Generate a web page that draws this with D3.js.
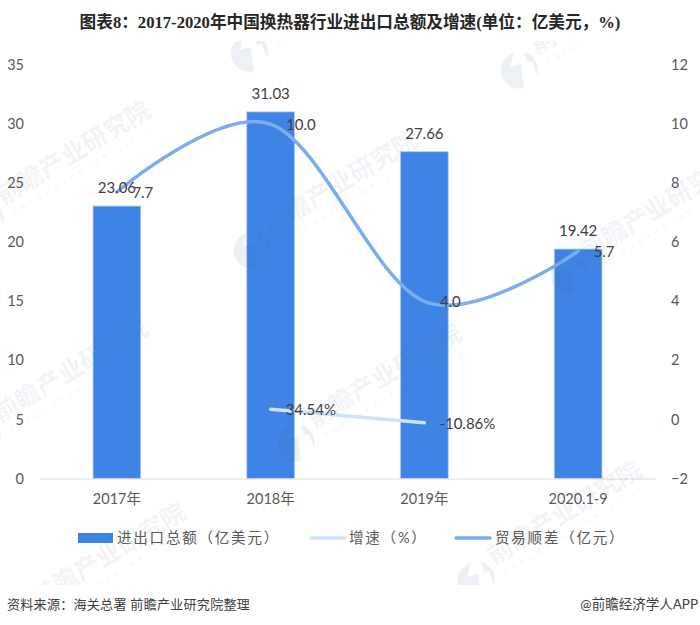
<!DOCTYPE html>
<html>
<head>
<meta charset="utf-8">
<script src="https://cdn.jsdelivr.net/npm/d3@7/dist/d3.min.js"></script>
<style>
    html, body { margin: 0; padding: 0; background: #fff; }
    svg { display: block; }
    text { font-family: Lato, "Noto Sans CJK SC", sans-serif; }
</style>
</head>
<body>
<svg id="chart" width="700" height="625"></svg>
<script>
const categories = ['2017年', '2018年', '2019年', '2020.1-9'];
const totals = [23.06, 31.03, 27.66, 19.42];
const tradeSurplus = [7.7, 10.0, 4.0, 5.7];
const growthCategories = ['2018年', '2019年'];
const growthRates = [34.54, -10.86];
const leftTicks = [0, 5, 10, 15, 20, 25, 30, 35];
const rightTicks = [-2, 0, 2, 4, 6, 8, 10, 12];
const legendLabels = ['进出口总额（亿美元）', '增速（%）', '贸易顺差（亿元）'];

const barColor = '#3f84e4';
const growthColor = '#cfe2fb';
const surplusColor = '#7aaeef';
const textColor = '#595959';
const labelColor = '#404040';

const svg = d3.select('#chart');
const plot = { left: 40, right: 655, top: 65, bottom: 478.5 };

const x = d3.scaleBand()
    .domain(categories)
    .range([plot.left, plot.right])
    .paddingInner(0.69)
    .paddingOuter(0.345);
const yLeft = d3.scaleLinear().domain([0, 35]).range([plot.bottom, plot.top]);
const yRight = d3.scaleLinear().domain([-2, 12]).range([plot.bottom, plot.top]);
const centre = (c) => x(c) + x.bandwidth() / 2;

svg.append('text')
    .attr('x', 350)
    .attr('y', 28)
    .attr('text-anchor', 'middle')
    .style('font-family', '"Liberation Serif", "Noto Sans CJK SC", serif')
    .style('font-size', '16.65px')
    .style('font-weight', 700)
    .attr('fill', '#262626')
    .text('图表8：2017-2020年中国换热器行业进出口总额及增速(单位：亿美元，%)');

// axes
const styleAxis = (g) => {
    g.selectAll('text').style('font-size', '14.5px').attr('fill', textColor);
    g.selectAll('.tick line').remove();
};

svg.append('g')
    .attr('transform', `translate(${plot.left},0)`)
    .call(d3.axisLeft(yLeft).tickValues(leftTicks).tickSize(0).tickPadding(16))
    .call(styleAxis)
    .call((g) => g.select('.domain').remove());

svg.append('g')
    .attr('transform', `translate(${plot.right},0)`)
    .call(d3.axisRight(yRight).tickValues(rightTicks).tickFormat(d3.format('d')).tickSize(0).tickPadding(16))
    .call(styleAxis)
    .call((g) => g.select('.domain').remove());

svg.selectAll('.bar')
    .data(categories)
    .enter()
    .append('rect')
    .classed('bar', true)
    .attr('x', (d) => x(d))
    .attr('width', x.bandwidth())
    .attr('y', (d, i) => yLeft(totals[i]))
    .attr('height', (d, i) => plot.bottom - yLeft(totals[i]))
    .attr('fill', barColor)
    .attr('stroke', '#a9cbf6')
    .attr('stroke-width', 0.8);

svg.append('g')
    .attr('transform', `translate(0,${plot.bottom})`)
    .call(d3.axisBottom(x).tickSize(0).tickPadding(15))
    .call(styleAxis)
    .call((g) => g.select('.domain').attr('stroke', '#dcdcdc').attr('stroke-width', 1.2));

// lines
const surplusLine = d3.line()
    .x((d) => centre(d.category))
    .y((d) => yRight(d.value))
    .curve(d3.curveCatmullRom.alpha(0));

const growthLine = d3.line()
    .x((d) => centre(d.category))
    .y((d) => yRight(d.value / 100));

const surplusPoints = categories.map((c, i) => ({ category: c, value: tradeSurplus[i] }));
const growthPoints = growthCategories.map((c, i) => ({ category: c, value: growthRates[i] }));

svg.append('path')
    .datum(growthPoints)
    .attr('d', growthLine)
    .attr('fill', 'none')
    .attr('stroke', growthColor)
    .attr('stroke-width', 3.5)
    .attr('stroke-linecap', 'round');

svg.append('path')
    .datum(surplusPoints)
    .attr('d', surplusLine)
    .attr('fill', 'none')
    .attr('stroke', surplusColor)
    .attr('stroke-width', 3.5)
    .attr('stroke-linecap', 'round');

// watermarks, they sit over the bars but under the labels
const watermarks = [
    [-14, 220], [250, 53], [520, 70], [253, 250], [570, 275],
    [-17, 438], [297, 443], [21, 622], [477, 580]
];

svg.append('defs')
    .append('clipPath')
    .attr('id', 'markClip')
    .append('rect')
    .attr('x', 0)
    .attr('y', 41)
    .attr('width', 700)
    .attr('height', 544);

const marks = svg.append('g')
    .attr('clip-path', 'url(#markClip)')
    .selectAll('g')
    .data(watermarks)
    .enter()
    .append('g')
    .attr('transform', (d) => `translate(${d[0]},${d[1]})`);

marks.append('path')
    .attr('d', 'M-6,-17 A18,18 0 1,0 4,18 L1,-6 L-10,-3 Z M4,-18 A18,18 0 0,1 17,5 L12,-9 L7,-8 Z')
    .attr('fill', '#3c5a8c')
    .attr('fill-opacity', 0.09);

marks.append('text')
    .attr('transform', 'translate(17,-15) rotate(-31)')
    .style('font-size', '25px')
    .style('font-weight', 700)
    .attr('fill', '#3c5a8c')
    .attr('fill-opacity', 0.075);

marks.selectAll('text').text('前瞻产业研究院');

marks.append('text')
    .attr('transform', 'translate(27,-4) rotate(-31)')
    .style('font-size', '7px')
    .style('letter-spacing', '2.6px')
    .attr('fill', '#3c5a8c')
    .attr('fill-opacity', 0.07)
    .text('中国产业咨询领导者（股票：839599）');

// data labels
const labelLayer = svg.append('g')
    .style('font-size', '15px')
    .attr('fill', labelColor);

labelLayer.selectAll('.totalLabel')
    .data(categories)
    .enter()
    .append('text')
    .classed('totalLabel', true)
    .attr('x', (d) => centre(d))
    .attr('y', (d, i) => yLeft(totals[i]) - 13)
    .attr('text-anchor', 'middle')
    .text((d, i) => totals[i].toFixed(2));

labelLayer.selectAll('.surplusLabel')
    .data(surplusPoints)
    .enter()
    .append('text')
    .classed('surplusLabel', true)
    .attr('x', (d) => centre(d.category) + 15.5)
    .attr('y', (d) => yRight(d.value) + 6)
    .text((d) => d.value.toFixed(1));

labelLayer.selectAll('.growthLabel')
    .data(growthPoints)
    .enter()
    .append('text')
    .classed('growthLabel', true)
    .attr('x', (d) => centre(d.category) + 15)
    .attr('y', (d) => yRight(d.value / 100) + 6)
    .text((d) => `${d.value.toFixed(2)}%`);

// legend
const legend = svg.append('g').attr('transform', 'translate(0,538)');

legend.append('rect')
    .attr('x', 78)
    .attr('y', -5)
    .attr('width', 35)
    .attr('height', 10)
    .attr('fill', barColor);

[[309, growthColor], [454, surplusColor]].forEach(([start, color]) => {
    legend.append('line')
        .attr('x1', start + 2)
        .attr('x2', start + 36)
        .attr('stroke', color)
        .attr('stroke-width', 3.5)
        .attr('stroke-linecap', 'round');
});

legend.selectAll('.legendLabel')
    .data(legendLabels)
    .enter()
    .append('text')
    .classed('legendLabel', true)
    .attr('x', (d, i) => [117, 349, 495][i])
    .attr('y', 5)
    .style('font-size', '14.5px')
    .style('letter-spacing', '1.8px')
    .attr('fill', textColor)
    .text((d) => d);

// footer
svg.append('text')
    .attr('x', 7)
    .attr('y', 609)
    .style('font-size', '13px')
    .style('letter-spacing', '0.3px')
    .attr('fill', '#404040')
    .text('资料来源：海关总署 前瞻产业研究院整理');

svg.append('text')
    .attr('x', 698)
    .attr('y', 609)
    .attr('text-anchor', 'end')
    .style('font-size', '13.5px')
    .attr('fill', '#404040')
    .text('@前瞻经济学人APP');
</script>
</body>
</html>
